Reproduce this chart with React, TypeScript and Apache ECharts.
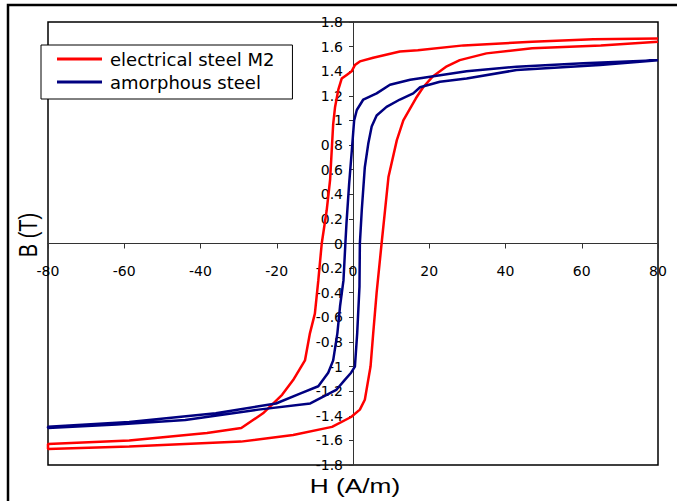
import React, { useEffect, useRef } from "react";
import * as echarts from "echarts";

const seriesNames = ["electrical steel M2", "amorphous steel"];
const seriesColors = ["#ff0000", "#000080"];

const xMin = -80;
const xMax = 80;
const xInterval = 20;
const yMin = -1.8;
const yMax = 1.8;
const yInterval = 0.2;

// electrical steel M2, descending branch (H from +80 to -80)
const m2Descending: [number, number][] = [
  [80, 1.665], [63, 1.66], [47, 1.64], [29, 1.61], [17, 1.57], [12.3, 1.56],
  [5.3, 1.51], [1.8, 1.48], [0.5, 1.45], [-0.35, 1.4], [-1.66, 1.37],
  [-2.97, 1.34], [-3.85, 1.25], [-4.7, 1.11], [-5.2, 0.97], [-6.0, 0.52],
  [-6.9, 0.27], [-8.2, 0], [-9.1, -0.3], [-10, -0.57], [-11.3, -0.73],
  [-12.6, -0.95], [-15.7, -1.11], [-18.6, -1.23], [-23.6, -1.38],
  [-29.3, -1.5], [-38.3, -1.54], [-58.7, -1.6], [-80, -1.63],
];

// electrical steel M2, ascending branch (H from -80 to +80)
const m2Ascending: [number, number][] = [
  [-80, -1.67], [-58.7, -1.65], [-29.4, -1.61], [-15.7, -1.556],
  [-5.5, -1.49], [-0.5, -1.41], [1.8, -1.35], [3.1, -1.27], [4.6, -1.0],
  [5.3, -0.73], [6.2, -0.4], [7.5, 0], [8.4, 0.27], [9.3, 0.54],
  [11.5, 0.84], [13.2, 1.0], [16.5, 1.18], [18.4, 1.27], [21, 1.36],
  [24.6, 1.44], [28, 1.49], [35, 1.545], [47, 1.586], [65, 1.61], [80, 1.64],
];

// amorphous steel, descending branch
const amorphousDescending: [number, number][] = [
  [80, 1.49], [60.4, 1.464], [42.9, 1.437], [29.8, 1.4], [21.1, 1.36],
  [15, 1.33], [9.7, 1.29], [6.2, 1.22], [2.7, 1.17], [1.0, 1.085],
  [0.3, 1.0], [-0.3, 0.76], [-1.0, 0.49], [-1.7, 0.17], [-2.0, 0],
  [-2.5, -0.3], [-3.4, -0.51], [-4.1, -0.73], [-5.2, -0.95], [-6.5, -1.05],
  [-9.1, -1.16], [-13.9, -1.22], [-20.2, -1.3], [-36, -1.38],
  [-58.7, -1.45], [-80, -1.49],
];

// amorphous steel, ascending branch
const amorphousAscending: [number, number][] = [
  [-80, -1.5], [-62, -1.47], [-44, -1.434], [-24.8, -1.35], [-11.2, -1.3],
  [-4.4, -1.19], [-2.2, -1.11], [-0.5, -1.05], [0.5, -1.0], [1.1, -0.73],
  [1.7, -0.35], [1.8, 0], [2.3, 0.27], [3.1, 0.62], [4.0, 0.81],
  [4.9, 0.95], [6.2, 1.04], [8.8, 1.11], [12.3, 1.17], [15.8, 1.22],
  [17.6, 1.27], [22.8, 1.315], [29.8, 1.34], [42.9, 1.41], [64.8, 1.45],
  [80, 1.49],
];

const xAxisName = "H (A/m)";
const yAxisName = "B (T)";

const GRID_LEFT = 48;
const GRID_RIGHT = 19;
const GRID_TOP = 22;
const GRID_BOTTOM = 36;
const W = 677;
const H = 501;

export default function App() {
  const ref = useRef<HTMLDivElement>(null);

  useEffect(() => {
    if (!ref.current) return;
    const chart = echarts.init(ref.current, undefined, { renderer: "svg" });
    const axisColor = "#333";
    const labelFont = {
      fontFamily: "DejaVu Sans",
      fontSize: 14,
      color: "#000",
    };
    const gridW = W - GRID_LEFT - GRID_RIGHT;
    const gridH = H - GRID_TOP - GRID_BOTTOM;
    // place axes where the other axis has value 0
    const xAxisOffset = -gridH * ((0 - yMin) / (yMax - yMin));
    const yAxisOffset = -gridW * ((0 - xMin) / (xMax - xMin));
    chart.setOption({
      animation: false,
      backgroundColor: "#fff",
      textStyle: { fontFamily: "Liberation Sans" },
      grid: {
        left: GRID_LEFT,
        right: GRID_RIGHT,
        top: GRID_TOP,
        bottom: GRID_BOTTOM,
        show: true,
        borderColor: "#000",
        borderWidth: 1.5,
        backgroundColor: "transparent",
      },
      legend: {
        left: 41,
        top: 45,
        orient: "vertical",
        backgroundColor: "#fff",
        borderColor: "#000",
        borderWidth: 1,
        padding: [5, 18, 8, 16],
        itemGap: 5,
        itemWidth: 45,
        itemHeight: 3,
        icon: "rect",
        data: seriesNames,
        textStyle: {
          fontFamily: "DejaVu Sans",
          fontSize: 18,
          lineHeight: 18,
          color: "#000",
          padding: [0, 0, 0, 3],
        },
      },
      xAxis: {
        type: "value",
        position: "bottom",
        offset: xAxisOffset,
        min: xMin,
        max: xMax,
        interval: xInterval,
        axisLine: { onZero: false, lineStyle: { color: axisColor, width: 1 } },
        axisTick: { show: true, length: 5, lineStyle: { color: axisColor } },
        axisLabel: { ...labelFont, margin: 20 },
        splitLine: { show: false },
      },
      yAxis: {
        type: "value",
        position: "left",
        offset: yAxisOffset,
        min: yMin,
        max: yMax,
        interval: yInterval,
        axisLine: { onZero: false, lineStyle: { color: axisColor, width: 1 } },
        axisTick: { show: true, length: 4, lineStyle: { color: axisColor } },
        axisLabel: { ...labelFont, margin: 10 },
        splitLine: { show: false },
      },
      series: [
        {
          name: seriesNames[0],
          type: "line",
          data: [...m2Descending, ...m2Ascending],
          showSymbol: false,
          symbol: "none",
          color: seriesColors[0],
          lineStyle: { color: seriesColors[0], width: 2.5 },
          z: 3,
        },
        {
          name: seriesNames[1],
          type: "line",
          data: [...amorphousDescending, ...amorphousAscending],
          showSymbol: false,
          symbol: "none",
          color: seriesColors[1],
          lineStyle: { color: seriesColors[1], width: 2.5 },
          z: 4,
        },
      ],
      graphic: [
        {
          type: "rect",
          shape: { x: 8, y: 5, width: 720, height: 540 },
          style: { fill: "none", stroke: "#000", lineWidth: 2.5 },
          silent: true,
        },
        {
          type: "text",
          x: 355,
          y: 485,
          scaleX: 1.25,
          style: {
            text: xAxisName,
            font: '21px "Liberation Sans"',
            fill: "#000",
            textAlign: "center",
            textVerticalAlign: "middle",
          },
        },
        {
          type: "text",
          x: 29,
          y: 235,
          rotation: Math.PI / 2,
          scaleY: 1.25,
          style: {
            text: yAxisName,
            font: '20px "Liberation Sans"',
            fill: "#000",
            textAlign: "center",
            textVerticalAlign: "middle",
          },
        },
      ],
    });
    return () => chart.dispose();
  }, []);

  return (
    <div
      ref={ref}
      style={{ position: "absolute", left: 0, top: 0, width: W, height: H }}
    />
  );
}
